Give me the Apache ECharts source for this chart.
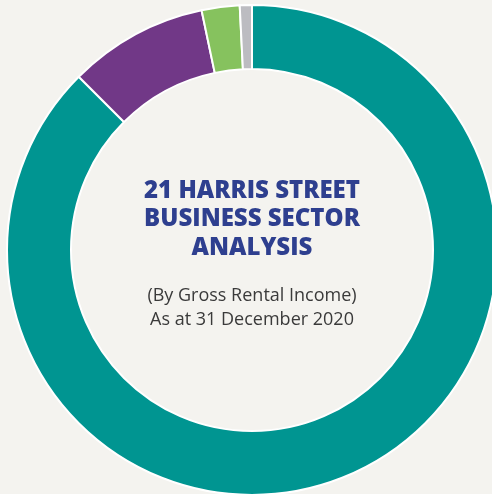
<!DOCTYPE html>
<html>
<head>
<meta charset="utf-8">
<script src="https://cdn.jsdelivr.net/npm/echarts@6/dist/echarts.min.js"></script>
<style>
  html, body { margin: 0; padding: 0; background: #f4f3ef; }
  #chart { width: 492px; height: 494px; }
</style>
</head>
<body>
<div id="chart"></div>
<script>
// business sectors, clockwise from 12 o'clock (percent of gross rental income)
const sectors = ['Sector A', 'Sector B', 'Sector C', 'Sector D'];
const shares = [87.5, 9.2, 2.5, 0.8];
const colors = ['#009591', '#713887', '#86c25e', '#bcbcc1'];

const titleLines = ['21 HARRIS STREET', 'BUSINESS SECTOR', 'ANALYSIS'];
const subLines = ['(By Gross Rental Income)', 'As at 31 December 2020'];

const cx = 252, cy = 250;

const chart = echarts.init(document.getElementById('chart'));

const graphics = [];
titleLines.forEach((t, i) => {
  graphics.push({
    type: 'text',
    silent: true,
    style: {
      x: cx, y: 203 + i * 28.5,
      text: t,
      textAlign: 'center',
      textVerticalAlign: 'bottom',
      fill: '#2e3f8f',
      font: '800 24px "Open Sans"'
    }
  });
});
subLines.forEach((t, i) => {
  graphics.push({
    type: 'text',
    silent: true,
    style: {
      x: cx, y: 305 + i * 24,
      text: t,
      textAlign: 'center',
      textVerticalAlign: 'bottom',
      fill: '#3a3a3a',
      font: '18px "Open Sans"'
    }
  });
});

chart.setOption({
  backgroundColor: '#f4f3ef',
  animation: false,
  graphic: graphics,
  series: [{
    type: 'pie',
    center: [cx, cy],
    radius: [181, 245],
    startAngle: 90,
    clockwise: true,
    silent: true,
    label: { show: false },
    labelLine: { show: false },
    itemStyle: { borderColor: '#ffffff', borderWidth: 2 },
    data: sectors.map((name, i) => ({
      name, value: shares[i], itemStyle: { color: colors[i] }
    }))
  }]
});
</script>
</body>
</html>
